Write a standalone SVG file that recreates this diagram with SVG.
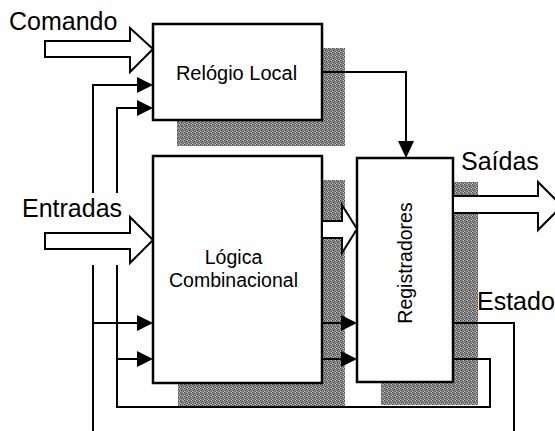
<svg xmlns="http://www.w3.org/2000/svg" width="555" height="431" viewBox="0 0 555 431">
<style>
.box{fill:#fff;stroke:#000;stroke-width:2.5}
.sh{fill:url(#stip)}
.ln{fill:none;stroke:#000;stroke-width:2}
.big{fill:#fff;stroke:#000;stroke-width:2;stroke-linejoin:miter}
.head{fill:#000}
.lbl{font-family:"Liberation Sans",Arial,sans-serif;font-size:25px;fill:#000}
.in{font-family:"Liberation Sans",Arial,sans-serif;font-size:19.5px;fill:#000;text-anchor:middle}
</style>
<defs>
<pattern id="stip" width="4" height="4" patternUnits="userSpaceOnUse">
<rect width="4" height="4" fill="#8a8a8a"/>
<rect x="0" y="0" width="1" height="1" fill="#444"/>
<rect x="2" y="1" width="1" height="1" fill="#555"/>
<rect x="1" y="2" width="1" height="1" fill="#444"/>
<rect x="3" y="3" width="1" height="1" fill="#555"/>
<rect x="3" y="0" width="1" height="1" fill="#bbb"/>
<rect x="0" y="3" width="1" height="1" fill="#bbb"/>
</pattern>
</defs>

<g id="relogio">
<rect class="sh" x="177" y="48" width="168" height="98"/>
<rect class="box" x="153" y="24" width="169" height="96"/>
<text class="in" x="236.5" y="80" style="font-size:20px">Relógio Local</text>
</g>

<g id="logica">
<rect class="sh" x="178" y="180" width="167" height="227"/>
<rect class="box" x="153" y="156" width="169" height="227"/>
<text class="in" x="233.5" y="264">Lógica</text>
<text class="in" x="233.5" y="287">Combinacional</text>
</g>

<g id="registradores">
<rect class="sh" x="381" y="182" width="97" height="223"/>
<rect class="box" x="357" y="158" width="96" height="224"/>
<text class="in" transform="translate(412,263) rotate(-90)">Registradores</text>
</g>

<g id="labels">
<text class="lbl" x="9" y="30">Comando</text>
<text class="lbl" x="22" y="217">Entradas</text>
<text class="lbl" x="461" y="170">Saídas</text>
<text class="lbl" x="477" y="310">Estado</text>
</g>

<g id="connectors">
<polygon class="big" points="45,41 130,41 130,28 153,49 130,72 130,57 45,57"/>
<polygon class="big" points="45,233 130,233 130,217 153,240 130,263 130,249 45,249"/>
<polygon class="big" points="322,221 342,221 342,205 357,229 342,253 342,238 322,238"/>
<polygon class="big" points="453,196 538,196 538,182 562,206 538,230 538,213 453,213"/>

<polyline class="ln" points="93,193 93,85 138,85"/>
<polyline class="ln" points="117,193 117,108 138,108"/>
<polygon class="head" points="137,77 153,85 137,93"/>
<polygon class="head" points="137,100 153,108 137,116"/>

<line class="ln" x1="93" y1="265" x2="93" y2="431"/>
<line class="ln" x1="93" y1="323" x2="138" y2="323"/>
<polygon class="head" points="137,315 153,323 137,331"/>
<polyline class="ln" points="138,359 117,359 117,265"/>
<polygon class="head" points="137,351 153,359 137,367"/>

<line class="ln" x1="322" y1="323" x2="342" y2="323"/>
<polygon class="head" points="341,315 357,323 341,331"/>
<line class="ln" x1="322" y1="359" x2="342" y2="359"/>
<polygon class="head" points="341,351 357,359 341,367"/>

<polyline class="ln" points="322,72 406,72 406,142"/>
<polygon class="head" points="398,141 406,158 414,141"/>

<polyline class="ln" points="453,359 490,359 490,407 117,407 117,359"/>
<polyline class="ln" points="453,323 514,323 514,431"/>
</g>
</svg>
